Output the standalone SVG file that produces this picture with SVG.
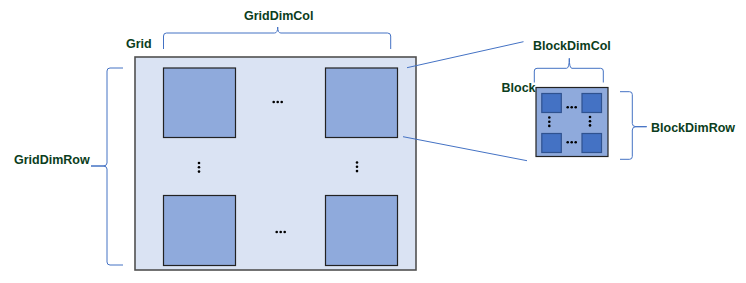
<svg xmlns="http://www.w3.org/2000/svg" width="746" height="283" viewBox="0 0 746 283">
<style>
.lbl{font-family:"Liberation Sans",Arial,sans-serif;font-weight:bold;font-size:12.5px;fill:#0b3d20}
.grid{fill:#dae3f3;stroke:#505050;stroke-width:1.6}
.cell{fill:#8faadc;stroke:#222;stroke-width:1.2}
.blk{fill:#8faadc;stroke:#222;stroke-width:1.2}
.thr{fill:#4472c4;stroke:#2f528f;stroke-width:1.2}
.br{fill:none;stroke:#4472c4;stroke-width:1}
.dot{fill:#000}
</style>
<rect width="746" height="283" fill="#fff"/>
<g id="grid">
<rect class="grid" x="135" y="57" width="281" height="213"/>
<text class="lbl" x="126" y="48">Grid</text>
</g>
<g id="cell-tl"><rect class="cell" x="163.5" y="68" width="72" height="69.5"/></g>
<g id="cell-tr"><rect class="cell" x="325.5" y="68" width="72" height="69.5"/></g>
<g id="cell-bl"><rect class="cell" x="163.5" y="195.5" width="72" height="70"/></g>
<g id="cell-br"><rect class="cell" x="325.5" y="195.5" width="72" height="70"/></g>
<g id="grid-dots">
<circle class="dot" cx="273.7" cy="102" r="1.3"/><circle class="dot" cx="277.7" cy="102" r="1.3"/><circle class="dot" cx="281.7" cy="102" r="1.3"/>
<circle class="dot" cx="276.7" cy="232" r="1.3"/><circle class="dot" cx="280.7" cy="232" r="1.3"/><circle class="dot" cx="284.7" cy="232" r="1.3"/>
<circle class="dot" cx="199" cy="163" r="1.3"/><circle class="dot" cx="199" cy="167.3" r="1.3"/><circle class="dot" cx="199" cy="171.6" r="1.3"/>
<circle class="dot" cx="357" cy="162.5" r="1.3"/><circle class="dot" cx="357" cy="166.8" r="1.3"/><circle class="dot" cx="357" cy="171.1" r="1.3"/>
</g>
<g id="block">
<rect class="blk" x="536" y="87.5" width="72" height="69"/>
<text class="lbl" x="501.5" y="92">Block</text>
<rect class="thr" x="541.8" y="93.5" width="19.5" height="19"/>
<rect class="thr" x="582" y="93.5" width="19.5" height="19"/>
<rect class="thr" x="541.8" y="133.5" width="19.5" height="19"/>
<rect class="thr" x="582" y="133.5" width="19.5" height="19"/>
<circle class="dot" cx="567.7" cy="107.3" r="1.3"/><circle class="dot" cx="571.7" cy="107.3" r="1.3"/><circle class="dot" cx="575.7" cy="107.3" r="1.3"/>
<circle class="dot" cx="567.7" cy="142.3" r="1.3"/><circle class="dot" cx="571.7" cy="142.3" r="1.3"/><circle class="dot" cx="575.7" cy="142.3" r="1.3"/>
<circle class="dot" cx="549.3" cy="117.5" r="1.3"/><circle class="dot" cx="549.3" cy="121.7" r="1.3"/><circle class="dot" cx="549.3" cy="125.9" r="1.3"/>
<circle class="dot" cx="590" cy="117" r="1.3"/><circle class="dot" cx="590" cy="121.2" r="1.3"/><circle class="dot" cx="590" cy="125.4" r="1.3"/>
</g>
<g id="labels">
<text class="lbl" x="244" y="19.5">GridDimCol</text>
<text class="lbl" x="14" y="163.5">GridDimRow</text>
<text class="lbl" x="533" y="50">BlockDimCol</text>
<text class="lbl" x="651" y="131.5">BlockDimRow</text>
</g>
<g id="connectors">
<path class="br" d="M163.5,49 V36 Q163.5,33 166.5,33 H274.5 Q277.7,33 277.7,27 Q277.7,33 280.9,33 H387.5 Q390.7,33 390.7,36 V49"/>
<path class="br" d="M123,68 H110 Q107,68 107,71 V163 Q107,166 103,166 H91 H103 Q107,166 107,169 V262 Q107,265 110,265 H123"/>
<path class="br" d="M534.3,82.5 V71 Q534.3,68.3 537,68.3 H566.5 Q569.3,68.3 569.3,58.3 Q569.3,68.3 572,68.3 H600.6 Q603.3,68.3 603.3,71 V82.5"/>
<path class="br" d="M620,91.7 H629.5 Q632.3,91.7 632.3,94.5 V123.5 Q632.3,126.7 636,126.7 H646.7 H636 Q632.3,126.7 632.3,130 V156.5 Q632.3,159.3 629.5,159.3 H620"/>
<line class="br" x1="407" y1="67.7" x2="523.5" y2="41.7"/>
<line class="br" x1="403" y1="136.7" x2="527" y2="160.7"/>
</g>
</svg>
